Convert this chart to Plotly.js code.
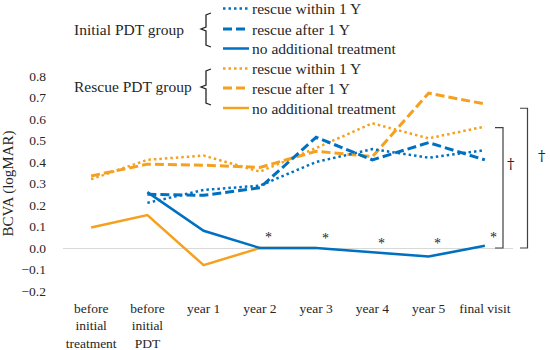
<!DOCTYPE html>
<html>
<head>
<meta charset="utf-8">
<script src="https://cdn.plot.ly/plotly-3.0.1.min.js"></script>
<style>html,body{margin:0;padding:0;background:#fff;}#chart{width:550px;height:350px;}</style>
</head>
<body>
<div id="chart"></div>
<script>
// ---- data ----
const categories = ['before<br>initial<br>treatment', 'before<br>initial<br>PDT', 'year 1', 'year 2', 'year 3', 'year 4', 'year 5', 'final visit'];
const initialWithin1Y = [null, 0.21, 0.27, 0.29, 0.40, 0.46, 0.42, 0.455];
const initialAfter1Y  = [null, 0.25, 0.245, 0.28, 0.515, 0.41, 0.49, 0.41];
const initialNoAdd    = [null, 0.26, 0.08, 0.0, 0.0, -0.02, -0.04, 0.01];
const rescueWithin1Y  = [0.32, 0.41, 0.43, 0.355, 0.465, 0.58, 0.51, 0.565];
const rescueAfter1Y   = [0.335, 0.39, 0.385, 0.375, 0.45, 0.425, 0.72, 0.67];
const rescueNoAdd     = [0.095, 0.153, -0.08, 0.0, 0.0, null, null, null];
const seriesNames = ['rescue within 1 Y', 'rescue after 1 Y', 'no additional treatment'];
const groupNames = ['Initial PDT group', 'Rescue PDT group'];
const yTicks = [-0.2, -0.1, 0.0, 0.1, 0.2, 0.3, 0.4, 0.5, 0.6, 0.7, 0.8];
const starCats = ['year 2', 'year 3', 'year 4', 'year 5', 'final visit'];
const starY = [0.05, 0.045, 0.023, 0.023, 0.05];

const BLUE = '#0070C0', ORANGE = '#F5A01E';
const FONT = '"Liberation Serif", "Times New Roman", serif';
const TXT = '#262626';
const DOT = '2.5px,3px', DASH = '9px,4px';

function tr(y, name, color, dash, width) {
  return {x: categories, y: y, name: name, type: 'scatter', mode: 'lines',
    connectgaps: false, line: {color: color, dash: dash, width: width}, showlegend: false};
}
const data = [
  tr(rescueNoAdd, 'Rescue PDT: ' + seriesNames[2], ORANGE, 'solid', 2.5),
  tr(rescueWithin1Y, 'Rescue PDT: ' + seriesNames[0], ORANGE, DOT, 2.5),
  tr(rescueAfter1Y, 'Rescue PDT: ' + seriesNames[1], ORANGE, DASH, 3),
  tr(initialNoAdd, 'Initial PDT: ' + seriesNames[2], BLUE, 'solid', 2.5),
  tr(initialWithin1Y, 'Initial PDT: ' + seriesNames[0], BLUE, DOT, 2.5),
  tr(initialAfter1Y, 'Initial PDT: ' + seriesNames[1], BLUE, DASH, 3)
];

// layout geometry (pixels -> paper)
const L = 63, R = 37, T = 76, B = 59, W = 550, H = 350;
const pw = W - L - R, ph = H - T - B;
const px = v => (v - L) / pw;
const py = v => (H - B - v) / ph;

const shapes = [];
const annotations = [];

// custom legend
const rowsY = [8.5, 29, 48.5, 68.5, 88, 108];
const colors = [BLUE, BLUE, BLUE, ORANGE, ORANGE, ORANGE];
const dashes = [DOT, DASH, 'solid', DOT, DASH, 'solid'];
for (let i = 0; i < 6; i++) {
  shapes.push({type: 'line', xref: 'paper', yref: 'paper', x0: px(223), x1: px(249), y0: py(rowsY[i]), y1: py(rowsY[i]),
    line: {color: colors[i], width: i % 3 === 1 ? 3 : 2.5, dash: dashes[i]}});
  annotations.push({xref: 'paper', yref: 'paper', x: px(250), y: py(rowsY[i]), text: seriesNames[i % 3],
    showarrow: false, xanchor: 'left', yanchor: 'middle', font: {family: FONT, size: 15.5, color: TXT}});
}
// group labels and braces
const groupMid = [29, 87], braceTop = [13, 69], braceBot = [47, 105];
for (let g = 0; g < 2; g++) {
  annotations.push({xref: 'paper', yref: 'paper', x: px(72), y: py(groupMid[g]), text: groupNames[g],
    showarrow: false, xanchor: 'left', yanchor: 'middle', font: {family: FONT, size: 15.5, color: TXT}});
  const xs = 206;
  const t = braceTop[g], b = braceBot[g], m = groupMid[g];
  const p = (x, y) => px(x) + ',' + py(y);
  shapes.push({type: 'path', xref: 'paper', yref: 'paper',
    path: 'M' + p(xs + 5, t) + 'L' + p(xs, t + 2) + 'L' + p(xs, m - 2) + 'L' + p(xs - 5, m) + 'L' + p(xs, m + 2) + 'L' + p(xs, b - 2) + 'L' + p(xs + 5, b),
    line: {color: '#262626', width: 1.3}});
}

// significance stars
for (let i = 0; i < starCats.length; i++) {
  annotations.push({xref: 'x', yref: 'y', x: starCats[i], y: starY[i], text: '*', showarrow: false,
    xshift: 9, yanchor: 'middle', font: {family: FONT, size: 14, color: TXT}});
}

// brackets
const innerTop = 0.56, outerTop = 0.65, brBottom = 0.0;
function bracket(xl, xr, top) {
  shapes.push({type: 'path', xref: 'paper', yref: 'paper',
    path: 'M' + px(xl) + ',' + py(248 - top * 215) + 'L' + px(xr) + ',' + py(248 - top * 215) +
          'L' + px(xr) + ',' + py(248 - brBottom * 215) + 'L' + px(xl) + ',' + py(248 - brBottom * 215),
    line: {color: '#404040', width: 1.2}});
}
bracket(495, 503, innerTop);
bracket(520, 527.5, outerTop);
const DAG = '"DejaVu Serif", serif';
annotations.push({xref: 'paper', yref: 'paper', x: px(511), y: py(164), text: '†', showarrow: false,
  xanchor: 'center', yanchor: 'middle', font: {family: DAG, size: 15, color: '#262626'}});
annotations.push({xref: 'paper', yref: 'paper', x: px(541.5), y: py(156), text: '†', showarrow: false,
  xanchor: 'center', yanchor: 'middle', font: {family: DAG, size: 15, color: '#262626'}});

const layout = {
  width: W, height: H,
  margin: {l: L, r: R, t: T, b: B, pad: 0},
  paper_bgcolor: '#fff', plot_bgcolor: '#fff',
  font: {family: FONT, size: 13, color: TXT},
  showlegend: false,
  xaxis: {type: 'category', categoryorder: 'array', categoryarray: categories, range: [-0.5, 7.5],
    showgrid: false, zeroline: false, showline: false, ticks: '', ticklabelstandoff: 7,
    tickfont: {family: FONT, size: 13.5, color: TXT}, fixedrange: true},
  yaxis: {title: {text: 'BCVA (logMAR)', font: {family: FONT, size: 15, color: TXT}, standoff: 6},
    range: [-0.2, 0.8], tickvals: yTicks, tickformat: '.1f', showgrid: false,
    zeroline: true, zerolinecolor: '#d9d9d9', zerolinewidth: 1, showline: false, ticks: '',
    ticklabelstandoff: 16, tickfont: {family: FONT, size: 13.5, color: TXT}, automargin: false, fixedrange: true},
  shapes: shapes,
  annotations: annotations
};

Plotly.newPlot('chart', data, layout, {displayModeBar: false, staticPlot: true});
</script>
</body>
</html>
